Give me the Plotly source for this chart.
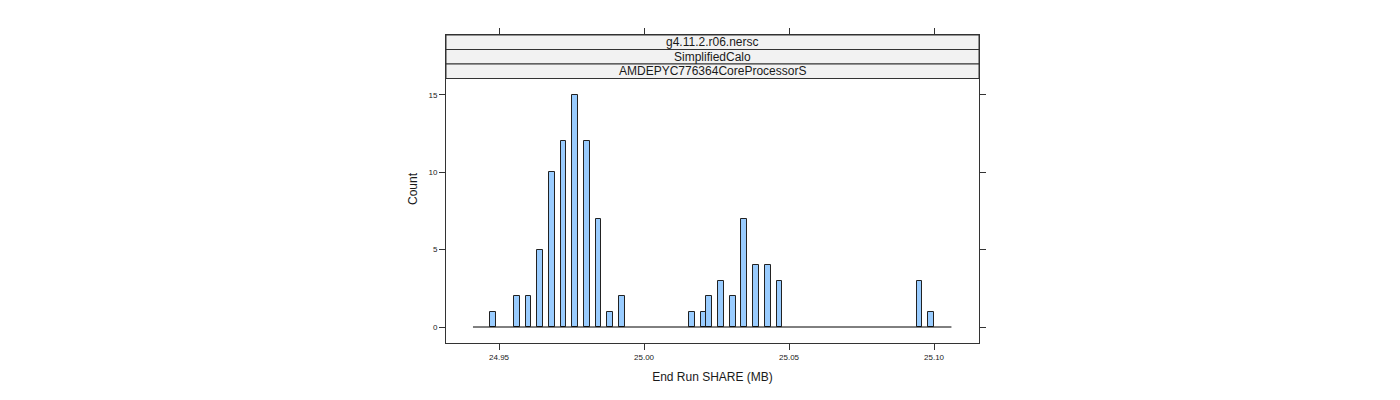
import plotly.graph_objects as go

# bin centres (MB) of the non-empty histogram bins and their counts
share_mb = [24.94805, 24.95610, 24.96012, 24.96415, 24.96818, 24.97220, 24.97623,
            24.98025, 24.98428, 24.98831, 24.99233, 25.01649, 25.02051, 25.02253,
            25.02655, 25.03058, 25.03460, 25.03863, 25.04266, 25.04668, 25.09499,
            25.09902]
counts = [1, 2, 2, 5, 10, 12, 15, 12, 7, 1, 2, 1, 1, 2, 3, 2, 7, 4, 4, 3, 3, 1]
bin_width = 0.002013
# full span of the histogram breaks (empty bins draw as a flat line)
breaks_range = [24.9410, 25.1060]

strips = ["g4.11.2.r06.nersc", "SimplifiedCalo", "AMDEPYC776364CoreProcessorS"]
x_ticks = [24.95, 25.00, 25.05, 25.10]
y_ticks = [0, 5, 10, 15]

fig = go.Figure()
fig.add_trace(go.Scatter(x=breaks_range, y=[0, 0], mode="lines",
                         line=dict(color="black", width=1), hoverinfo="skip"))
fig.add_trace(go.Bar(x=share_mb, y=counts, width=bin_width,
                     marker=dict(color="#99CCFF", line=dict(color="#222222", width=1))))

# page body adds an 8px offset, so margins are shifted to compensate
off = 8
left_px, right_px = 446, 979
top_px, bot_px = 35, 343
strip_edges = [35, 49.5, 64, 78.5]

def paper_y(py):
    return (bot_px - py) / (bot_px - top_px)

for i, label in enumerate(strips):
    y0 = paper_y(strip_edges[i + 1])
    y1 = paper_y(strip_edges[i])
    fig.add_shape(type="rect", xref="paper", yref="paper", x0=0, x1=1, y0=y0, y1=y1,
                  fillcolor="#F2F2F2", line=dict(color="#333333", width=1), layer="above")
    fig.add_annotation(x=0.5, y=(y0 + y1) / 2, xref="paper", yref="paper", text=label,
                       showarrow=False, xanchor="center", yanchor="middle",
                       font=dict(size=12, color="#1a1a1a"))

axis_style = dict(showgrid=False, zeroline=False, showline=True, linecolor="#333333",
                  linewidth=1, mirror="ticks", ticks="outside", ticklen=6,
                  tickcolor="#333333", tickfont=dict(size=8, color="#1a1a1a"))

fig.update_layout(
    width=1400, height=400,
    margin=dict(l=left_px - off, r=1400 - right_px + off, t=top_px - off,
                b=400 - bot_px + off),
    paper_bgcolor="white", plot_bgcolor="white",
    font=dict(family="Liberation Sans, Arial, sans-serif", color="#1a1a1a"),
    showlegend=False, bargap=0,
    xaxis=dict(range=[24.9317, 25.1155], tickvals=x_ticks,
               ticktext=["%.2f" % v for v in x_ticks],
               title=dict(text="End Run SHARE (MB)", font=dict(size=12), standoff=12),
               **axis_style),
    yaxis=dict(range=[-1.034, 18.875], tickvals=y_ticks,
               title=dict(text="Count", font=dict(size=12), standoff=8),
               **axis_style),
)

fig.write_html("out.html")
